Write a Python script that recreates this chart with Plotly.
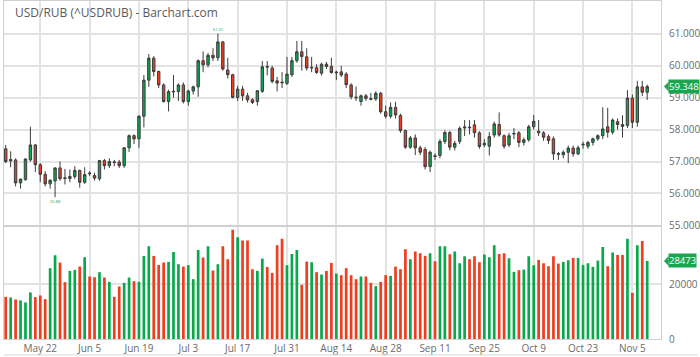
import pandas as pd
import plotly.graph_objects as go
from plotly.subplots import make_subplots

# ---------------- data ----------------
dates = [d.strftime("%Y-%m-%d") for d in pd.bdate_range("2023-05-11", periods=131)]

opens = [57.40, 57.02, 57.05, 56.33, 56.43, 57.05, 57.52, 56.90, 56.60, 56.30,
         56.39, 56.80, 56.49, 56.47, 56.53, 56.72, 56.35, 56.64, 56.56, 56.46,
         57.03, 56.87, 56.99, 56.98, 56.87, 57.43, 57.81, 57.71, 58.42, 59.55,
         60.24, 59.82, 59.40, 58.88, 59.18, 59.19, 59.40, 58.88, 59.21, 59.34,
         60.16, 60.03, 60.33, 60.25, 60.75, 59.87, 59.72, 59.01, 59.27, 59.06,
         58.94, 58.88, 59.20, 59.98, 59.93, 59.53, 59.49, 59.45, 59.72, 60.16,
         60.44, 60.28, 59.93, 59.94, 59.77, 60.05, 59.98, 59.78, 59.81, 59.74,
         59.40, 59.02, 58.88, 59.06, 58.97, 58.96, 59.14, 58.56, 58.42, 58.70,
         58.44, 57.97, 57.45, 57.74, 57.43, 57.38, 56.84, 57.18, 57.19, 57.63,
         57.91, 57.45, 57.63, 58.05, 58.08, 58.15, 57.90, 57.52, 57.48, 57.83,
         58.16, 57.81, 57.52, 57.86, 57.90, 57.60, 57.68, 58.09, 57.95, 57.90,
         57.78, 57.71, 57.25, 57.21, 57.29, 57.42, 57.24, 57.52, 57.48, 57.60,
         57.71, 57.81, 58.09, 57.92, 58.25, 58.16, 58.13, 58.99, 58.23, 59.34,
         59.17]
highs = [57.52, 57.32, 57.10, 56.46, 57.10, 58.09, 57.55, 56.95, 56.70, 56.45,
         56.82, 57.00, 56.77, 56.75, 56.85, 56.75, 56.82, 56.70, 56.65, 57.05,
         57.08, 57.10, 57.05, 57.05, 57.45, 57.85, 57.85, 58.45, 59.71, 60.37,
         60.30, 59.85, 59.45, 59.25, 59.71, 59.45, 59.48, 59.25, 59.38, 60.20,
         60.45, 60.40, 60.55, 61.01, 60.78, 60.25, 59.75, 59.37, 59.37, 59.15,
         58.98, 59.22, 60.15, 60.15, 60.00, 59.65, 59.80, 60.28, 60.28, 60.78,
         60.78, 60.55, 60.28, 60.05, 60.10, 60.12, 60.25, 59.85, 60.00, 59.80,
         59.45, 59.35, 59.10, 59.12, 59.15, 59.20, 59.18, 58.75, 58.85, 58.87,
         58.50, 58.00, 57.80, 57.85, 57.50, 57.45, 57.35, 57.25, 57.70, 57.98,
         57.96, 57.65, 58.10, 58.30, 58.30, 58.30, 57.95, 57.70, 57.92, 58.25,
         58.54, 57.85, 57.90, 58.05, 57.95, 57.75, 58.15, 58.46, 58.30, 57.95,
         57.85, 57.78, 57.30, 57.35, 57.50, 57.50, 57.50, 57.62, 57.65, 57.75,
         57.85, 58.70, 58.68, 58.35, 58.35, 58.45, 59.24, 59.10, 59.53, 59.53,
         59.41]
lows = [56.95, 56.82, 56.22, 56.15, 56.40, 57.00, 56.67, 56.35, 56.22, 56.15,
        55.88, 56.40, 56.28, 56.35, 56.45, 56.18, 56.30, 56.55, 56.40, 56.40,
        56.75, 56.80, 56.85, 56.80, 56.80, 57.30, 57.55, 57.43, 58.07, 59.34,
        59.67, 59.30, 58.85, 58.57, 59.00, 58.90, 58.82, 58.75, 59.10, 59.03,
        59.80, 59.95, 60.15, 60.15, 59.85, 59.60, 58.98, 58.90, 58.90, 58.85,
        58.80, 58.75, 59.15, 59.70, 59.45, 59.20, 59.30, 59.40, 59.65, 60.10,
        59.85, 59.85, 59.80, 59.75, 59.70, 59.90, 59.75, 59.55, 59.65, 59.30,
        58.95, 58.90, 58.75, 58.90, 58.92, 58.90, 58.50, 58.35, 58.35, 58.35,
        57.90, 57.40, 57.40, 57.20, 57.20, 56.75, 56.67, 57.05, 57.10, 57.55,
        57.35, 57.35, 57.55, 57.80, 57.85, 57.75, 57.40, 57.45, 57.19, 57.75,
        57.78, 57.40, 57.45, 57.70, 57.45, 57.50, 57.62, 58.00, 57.80, 57.65,
        57.55, 57.05, 57.05, 57.10, 56.95, 57.15, 57.20, 57.40, 57.40, 57.50,
        57.65, 57.70, 57.75, 57.85, 58.00, 57.75, 58.05, 58.05, 58.09, 59.05,
        58.93]
closes = [57.00, 57.06, 56.33, 56.45, 57.08, 57.52, 56.90, 56.60, 56.30, 56.41,
          56.80, 56.46, 56.47, 56.53, 56.72, 56.35, 56.59, 56.62, 56.48, 57.03,
          56.87, 57.00, 56.97, 56.87, 57.43, 57.81, 57.71, 58.42, 59.55, 60.24,
          59.82, 59.40, 58.88, 59.19, 59.20, 59.40, 58.88, 59.21, 59.34, 60.16,
          60.03, 60.33, 60.25, 60.75, 59.90, 59.72, 59.01, 59.27, 59.06, 58.93,
          58.85, 59.22, 59.97, 59.96, 59.51, 59.46, 59.47, 59.74, 60.16, 60.44,
          60.29, 59.93, 59.95, 59.79, 60.05, 59.98, 59.79, 59.80, 59.71, 59.41,
          59.03, 59.00, 59.06, 58.98, 58.95, 59.14, 58.56, 58.42, 58.70, 58.46,
          57.97, 57.45, 57.74, 57.43, 57.29, 56.84, 57.29, 57.16, 57.63, 57.91,
          57.45, 57.57, 58.04, 58.08, 58.06, 57.90, 57.47, 57.57, 57.78, 58.18,
          57.83, 57.48, 57.81, 57.88, 57.60, 57.68, 58.09, 58.26, 57.90, 57.76,
          57.66, 57.24, 57.23, 57.29, 57.42, 57.24, 57.43, 57.54, 57.60, 57.71,
          57.81, 58.02, 57.92, 58.30, 58.16, 58.10, 58.99, 58.23, 59.34, 59.17,
          59.348]
volumes = [15380, 15150, 14430, 14070, 13340, 16970, 15270, 15880, 14540, 25820,
           30540, 27880, 20730, 24840, 25210, 26420, 29820, 22800, 22540, 24360,
           22420, 20840, 15380, 19150, 20480, 22420, 21090, 20840, 30300, 33810,
           30300, 27020, 27880, 28120, 31750, 27270, 26420, 26910, 21820, 32470,
           29700, 33810, 24970, 27270, 33810, 29090, 39880, 37090, 35880, 35880,
           25450, 24840, 29330, 26300, 24120, 34180, 36600, 26910, 31020, 32470,
           19750, 28240, 28000, 24360, 23520, 24840, 27750, 23880, 23270, 25820,
           23270, 21820, 22800, 22800, 20480, 19270, 20840, 23270, 23030, 26420,
           25450, 32720, 29090, 31880, 31270, 30300, 31270, 28360, 33810, 33810,
           30910, 31880, 27630, 30180, 29090, 30180, 28000, 30790, 29820, 34180,
           31020, 31270, 29450, 24480, 25090, 25330, 30180, 26910, 28850, 27630,
           26540, 30180, 27510, 28120, 28720, 29570, 29570, 27020, 27630, 26300,
           28600, 33570, 26540, 31510, 30670, 30670, 36600, 16850, 34180, 35760,
           28473]

tick_dates = ["2023-05-22", "2023-06-05", "2023-06-19", "2023-07-03", "2023-07-17",
              "2023-07-31", "2023-08-14", "2023-08-28", "2023-09-11", "2023-09-25",
              "2023-10-09", "2023-10-23", "2023-11-06"]
tick_labels = ["May 22", "Jun 5", "Jun 19", "Jul 3", "Jul 17", "Jul 31", "Aug 14",
               "Aug 28", "Sep 11", "Sep 25", "Oct 9", "Oct 23", "Nov 5"]
price_ticks = [55, 56, 57, 58, 59, 60, 61]
volume_ticks = [0, 20000]
title = "USD/RUB (^USDRUB) - Barchart.com"

# ---------------- style ----------------
GREEN = "#0aa84c"
RED = "#ee3d1f"
GRID = "#e3e3e3"
TXT = "#6b6b6b"
FONT = "Open Sans"

W, H = 700, 357
ML, MR, MT, MB = 4, 37, 0, 18
plot_w = W - ML - MR
plot_h = H - MT - MB
price_bottom_px = 225
vol_top_px = 227
px_per_unit = 32.0
vol_per_px = 20000 / 55.0

fig = make_subplots(rows=2, cols=1, shared_xaxes=True, vertical_spacing=0)

fig.add_trace(go.Candlestick(
    x=dates, open=opens, high=highs, low=lows, close=closes,
    increasing=dict(fillcolor=GREEN, line=dict(color="#3c3c3c", width=1)),
    decreasing=dict(fillcolor=RED, line=dict(color="#3c3c3c", width=1)),
    whiskerwidth=0, showlegend=False, hoverinfo="skip"), row=1, col=1)

vol_colors = [GREEN if c >= o else RED for o, c in zip(opens, closes)]
fig.add_trace(go.Bar(x=dates, y=volumes, marker=dict(color=vol_colors, line=dict(width=0)),
                     width=0.55, showlegend=False, hoverinfo="skip"), row=2, col=1)

xrange = [-0.35, 132.8]
axis_common = dict(type="category", range=xrange, tickmode="array", tickvals=tick_dates,
                   ticktext=tick_labels, showgrid=True, gridcolor=GRID, gridwidth=1.5,
                   rangeslider=dict(visible=False), showline=True, linecolor="#d0d0d0",
                   linewidth=1, mirror=True, zeroline=False, ticks="")
fig.update_xaxes(**axis_common)
fig.update_xaxes(showticklabels=False, row=1, col=1)
fig.update_xaxes(showticklabels=True, tickfont=dict(family=FONT, size=10, color=TXT),
                 row=2, col=1)

price_top = 55 + price_bottom_px / px_per_unit
fig.update_yaxes(domain=[1 - price_bottom_px / plot_h, 1.0], range=[55, price_top],
                 side="right", tickmode="array", tickvals=price_ticks, tickformat=".3f",
                 showgrid=True, gridcolor=GRID, gridwidth=1.5, zeroline=False,
                 showline=True, linecolor="#d0d0d0", mirror=True, ticks="",
                 ticklabelstandoff=5, tickfont=dict(family=FONT, size=10, color=TXT),
                 row=1, col=1)
fig.update_yaxes(domain=[0, 1 - vol_top_px / plot_h], range=[0, (plot_h - vol_top_px) * vol_per_px],
                 side="right", tickmode="array", tickvals=volume_ticks, tickformat="d",
                 showgrid=True, gridcolor=GRID, gridwidth=1.5, zeroline=False,
                 showline=True, linecolor="#d0d0d0", mirror=True, ticks="",
                 ticklabelstandoff=5, tickfont=dict(family=FONT, size=10, color=TXT),
                 row=2, col=1)

annotations = []
shapes = []
# title
annotations.append(dict(text=title, xref="paper", yref="paper", x=(13 - ML) / plot_w,
                        y=1 - 12 / plot_h, xanchor="left", yanchor="middle", showarrow=False,
                        font=dict(family=FONT, size=12, color="#5a5a5a")))

# last value tags
def tag(value, text, yref, half_h):
    x_tip = 1 + 3 / plot_w
    x_box = 1 + 7 / plot_w
    annotations.append(dict(text=text, xref="paper", yref=yref, x=x_box, y=value,
                            xanchor="left", yanchor="middle", showarrow=False,
                            bgcolor="#1aa64f", borderpad=0,
                            font=dict(family=FONT, size=9.5, color="white")))
    shapes.append(dict(type="path", xref="paper", yref=yref, fillcolor="#1aa64f",
                       line=dict(width=0),
                       path=f"M {x_tip} {value} L {x_box + 0.001} {value + half_h} "
                            f"L {x_box + 0.001} {value - half_h} Z"))

tag(closes[-1], f"{closes[-1]:.3f}", "y", 5 / px_per_unit)
tag(volumes[-1], f"{volumes[-1]}", "y2", 5 * vol_per_px)

# high / low markers
hi_i = max(range(len(highs)), key=lambda i: highs[i])
lo_i = min(range(len(lows)), key=lambda i: lows[i])
annotations.append(dict(text=f"{highs[hi_i]:.2f}", x=dates[hi_i], y=highs[hi_i], xref="x", yref="y",
                        yanchor="bottom", showarrow=False, font=dict(size=4, color=GREEN)))
annotations.append(dict(text=f"{lows[lo_i]:.2f}", x=dates[lo_i], y=lows[lo_i], xref="x", yref="y",
                        yanchor="top", showarrow=False, font=dict(size=4, color=GREEN)))

# outer bottom border
shapes.append(dict(type="line", xref="paper", yref="paper", x0=0, x1=1 + MR / plot_w,
                   y0=-(355 - plot_h) / plot_h, y1=-(355 - plot_h) / plot_h,
                   line=dict(color="#d8d8d8", width=1)))

fig.update_layout(width=W, height=H, margin=dict(l=ML, r=MR, t=MT, b=MB),
                  paper_bgcolor="white", plot_bgcolor="white", bargap=0.45,
                  annotations=annotations, shapes=shapes, showlegend=False,
                  font=dict(family=FONT))

fig.write_html("out.html")
